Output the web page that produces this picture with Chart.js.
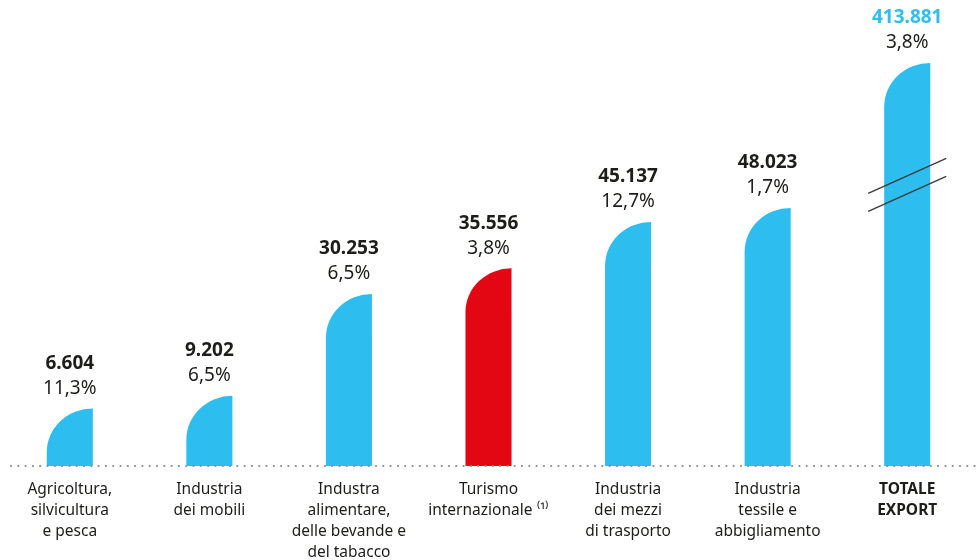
<!DOCTYPE html>
<html>
<head>
<meta charset="utf-8">
<script src="https://cdn.jsdelivr.net/npm/chart.js@4/dist/chart.umd.min.js"></script>
<style>
  html, body { margin: 0; padding: 0; background: #fff; }
  #wrap { width: 980px; height: 560px; position: relative; }
</style>
</head>
<body>
<div id="wrap"><canvas id="chart"></canvas></div>
<script>
// dati
const categories = [
  ['Agricoltura,', 'silvicultura', 'e pesca'],
  ['Industria', 'dei mobili'],
  ['Industra', 'alimentare,', 'delle bevande e', 'del tabacco'],
  ['Turismo', 'internazionale \u207D\u00B9\u207E'],
  ['Industria', 'dei mezzi', 'di trasporto'],
  ['Industria', 'tessile e', 'abbigliamento'],
  ['TOTALE', 'EXPORT']
];
const values = [6604, 9202, 30253, 35556, 45137, 48023, 413881];
const shares = [11.3, 6.5, 6.5, 3.8, 12.7, 1.7, 3.8];
const highlightIndex = 3;
const totalIndex = 6;

// asse (la barra del totale e' spezzata)
const yMin = -5300;
const yMax = 91000;
const breakAt = 78000;

const BLUE = '#2ebdef';
const RED = '#e30613';
const TEXT = '#1d1d1b';
const FONT = '"Noto Sans", "Open Sans", sans-serif';

const fmtInt = v => String(v).replace(/\B(?=(\d{3})+(?!\d))/g, '.');
const fmtPct = v => v.toFixed(1).replace('.', ',') + '%';

const barsPlugin = {
  id: 'customBars',
  beforeDatasetDraw() { return false; },
  afterDatasetsDraw(chart) {
    const ctx = chart.ctx;
    const meta = chart.getDatasetMeta(0);
    const area = chart.chartArea;

    // barre con angolo in alto a sinistra arrotondato
    meta.data.forEach((bar, i) => {
      const p = bar.getProps(['x', 'y', 'base', 'width'], true);
      const left = p.x - p.width / 2, right = p.x + p.width / 2;
      const rx = p.width, ry = Math.min(p.width * 0.95, p.base - p.y);
      ctx.save();
      ctx.fillStyle = i === highlightIndex ? RED : BLUE;
      ctx.beginPath();
      ctx.moveTo(left, p.base);
      ctx.lineTo(left, p.y + ry);
      ctx.ellipse(right, p.y + ry, rx, ry, 0, Math.PI, 1.5 * Math.PI);
      ctx.lineTo(right, p.base);
      ctx.closePath();
      ctx.fill();
      ctx.restore();
    });

    // linea di base punteggiata
    ctx.save();
    ctx.fillStyle = '#8a8a8a';
    for (let x = 11; x < area.right; x += 7.3) {
      ctx.beginPath();
      ctx.arc(x, area.bottom, 1.1, 0, 2 * Math.PI);
      ctx.fill();
    }
    ctx.restore();

    // etichette sopra le barre
    meta.data.forEach((bar, i) => {
      const p = bar.getProps(['x', 'y'], true);
      ctx.save();
      ctx.textAlign = 'center';
      ctx.textBaseline = 'middle';
      ctx.font = 'bold 19px ' + FONT;
      ctx.fillStyle = i === totalIndex ? BLUE : TEXT;
      ctx.fillText(fmtInt(values[i]), p.x, p.y - 45);
      ctx.font = '19px ' + FONT;
      ctx.fillStyle = TEXT;
      ctx.fillText(fmtPct(shares[i]), p.x, p.y - 20);
      ctx.restore();
    });

    // segno di interruzione sulla barra del totale
    const tb = meta.data[totalIndex].getProps(['x', 'y', 'width'], true);
    ctx.save();
    ctx.strokeStyle = '#3a3a3a';
    ctx.lineWidth = 1.3;
    [113, 131].forEach(off => {
      const cy = tb.y + off, half = tb.width / 2 + 16, slope = 35 / 78;
      ctx.beginPath();
      ctx.moveTo(tb.x - half, cy + half * slope);
      ctx.lineTo(tb.x + half, cy - half * slope);
      ctx.stroke();
    });
    ctx.restore();
  }
};

new Chart(document.getElementById('chart'), {
  type: 'bar',
  data: {
    labels: categories,
    datasets: [{
      data: values.map(v => Math.min(v, breakAt)),
      base: yMin,
      backgroundColor: values.map((v, i) => i === highlightIndex ? RED : BLUE),
      barPercentage: 0.33,
      categoryPercentage: 1
    }]
  },
  options: {
    responsive: true,
    maintainAspectRatio: false,
    animation: false,
    layout: { padding: { top: 0, right: 3, left: 0, bottom: 0 } },
    plugins: { legend: { display: false }, tooltip: { enabled: false } },
    scales: {
      x: {
        grid: { display: false, drawTicks: false },
        border: { display: false },
        ticks: {
          color: TEXT,
          padding: 13,
          autoSkip: false,
          maxRotation: 0,
          font: c => ({ family: FONT, size: 15.5, lineHeight: 1.36, weight: c.index === totalIndex ? 'bold' : 'normal' })
        },
        afterFit: s => { s.height = 94; }
      },
      y: { display: false, min: yMin, max: yMax }
    }
  },
  plugins: [barsPlugin]
});
</script>
</body>
</html>
